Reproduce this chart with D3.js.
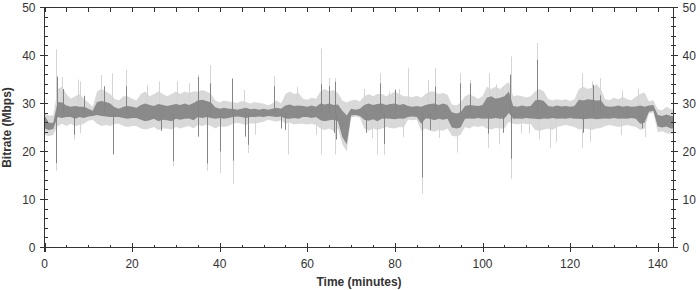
<!DOCTYPE html>
<html>
<head>
<meta charset="utf-8">
<script src="https://cdn.jsdelivr.net/npm/d3@7"></script>
<style>
	body { margin: 0; background: #fff; }
	text { font-family: "Liberation Sans", Arial, sans-serif; fill: #333; }
</style>
</head>
<body>
<svg width="700" height="290"></svg>
<script>
// per-minute envelopes (minute 0..143)
var darkHi = [
	27.5, 26, 26,
	30.3, 30.2, 29.6,
	29.3, 29.5, 29.3, 29.3, 28.9, 28.5,
	30.3, 30.5, 30.3, 30,
	29.2, 28.9, 29.3,
	29.5, 29.3, 29.1,
	29.7, 30, 29.7, 29.5, 29.9, 29.7, 29.5, 29.7,
	29.9, 29.7, 30, 29.7, 30.1,
	30.6, 30.8, 30.5, 30.2,
	29.2, 28.9, 29.1, 28.9,
	28.9, 28.7, 28.9, 29.1, 28.8, 28.9, 28.7, 28.9,
	28.7, 28.9, 29.1, 28.9,
	29.6, 29.8, 29.5, 29.6,
	29.5, 29.3, 29.6, 29.3,
	30, 29.8, 30, 29.7, 29.8,
	28.5, 27.5,
	28.9, 28.7, 28.9,
	29.7, 30, 29.7, 29.9,
	30, 29.7, 29.9, 30, 29.7, 29.9,
	29.5, 29.3, 29.5,
	29.3,
	29.7, 29.9, 30, 29.7, 30, 29.7,
	28.2, 27.9, 28.2,
	29.5, 29.7, 29.6, 29.5, 29.7,
	31.2, 31.5, 31, 31.2, 31.5,
	32.5,
	29.5, 29.3, 29.6, 29.4, 29.5,
	30.6, 30.8, 30.5,
	29.5, 29.3, 29.6, 29.4, 29.5, 29.3, 29.5,
	30.8, 30.6, 30.9, 30.8, 30.6, 30.7,
	29.5, 29.3, 29.4, 29.6, 29.3, 29.5, 29.3, 29.4,
	29.6, 29.3,
	29.6, 29.7,
	27.6, 27.4, 27.7, 27.4
];
var darkLo = [
	24.8, 24.5, 24.7,
	27.2, 27, 27.2,
	27.2, 26.8, 27.2, 27, 27.3, 27.4,
	27.6, 27.4, 27.3, 27.2,
	27.2, 27.2, 27,
	26.8, 27, 27,
	26.6, 26.3, 26.5, 26.8, 26.3, 26.6, 26.5, 26.3,
	26.8, 26.6, 26.8, 26.9, 26.5,
	27.2, 27, 27.2, 27,
	26.8, 27, 26.8, 27,
	27.2, 27.3, 27.2, 27, 27.2, 27.2, 27.3, 27.2,
	27.4, 27.3, 27.2, 27.3,
	26.9, 26.8, 27, 26.8,
	27.2, 27.2, 27, 27.2,
	26.5, 26.3, 26.5, 26.6, 26.3,
	23, 21.5,
	27.5, 27.6, 27.4,
	26.6, 26.4, 26.7, 26.3,
	26.8, 26.9, 26.8, 26.7, 26.9, 26.8,
	27.2, 27.3, 27.2,
	25.8,
	26.9, 26.8, 26.5, 26.8, 26.6, 26.8,
	25, 24.8, 25,
	26.8, 26.9, 26.8, 27, 26.8,
	26.9, 26.8, 27, 26.8, 26.9,
	28,
	26.8, 26.9, 26.8, 27, 26.9,
	26.8, 26.7, 26.9,
	26.8, 27, 26.8, 26.9, 26.8, 27, 26.8,
	26.8, 26.7, 26.8, 26.9, 26.7, 26.8,
	26.9, 26.8, 27, 26.8, 26.9, 26.8, 27, 26.8,
	25.8, 26,
	28.3, 28.5,
	25.2, 25, 25.2, 24.8
];
var lightHi = [
	28, 27.5, 27.5,
	33, 33.5, 32,
	31, 31.5, 32, 31, 30.2, 29.3,
	32.5, 33, 32.5, 32,
	31, 30.6, 31.5,
	31.5, 31, 30.6,
	32, 32.5, 31.5, 32, 32.5, 32, 31.5, 32,
	32.5, 32, 32.5, 32.2, 32.5,
	32.5, 32.8, 32.5, 32,
	30.6, 30.2, 30.6, 30.4,
	30.3, 30.1, 30.5, 30.3, 30, 30.3, 30.1, 30,
	29.6, 30, 30.6, 30,
	32, 32.5, 32, 32.2,
	31, 30.8, 31.2, 31,
	32.5, 33, 32.5, 32.8, 32.2,
	30.6, 30.2,
	30.6, 30.8, 30.4,
	31.5, 32, 31.5, 32,
	32, 31.5, 32, 32.5, 32, 31.5,
	31.5, 31.3, 31.6,
	31.2,
	32, 32.5, 32.5, 32, 32.2, 31.8,
	29.8, 29.6, 30.2,
	31.5, 32, 31.5, 31, 31.5,
	33.5, 33, 33.5, 33, 33.8,
	34.5,
	31.5, 31.7, 31.5, 31.3, 31.5,
	32.5, 33, 32.5,
	30.9, 30.7, 30.9, 30.7, 30.9, 30.5, 30.9,
	33, 33.5, 33, 33.3, 34, 33,
	30.9, 30.7, 31.2, 30.9, 31.4, 30.9, 30.7, 31.4,
	32, 32.3,
	30.4, 30.7,
	28.8, 28.6, 29.3, 28.8
];
var lightLo = [
	23.5, 23.2, 23.5,
	25.3, 25.8, 25.3,
	25.8, 25.3, 25.5, 25.8, 26.4, 26.6,
	25.8, 25.3, 25.5, 25.3,
	25.8, 25.8, 25.3,
	25.1, 25.3, 25.3,
	24.8, 24.6, 24.8, 25.1, 24.5, 24.8, 24.8, 24.6,
	25.1, 24.8, 25.1, 25.3, 24.8,
	25.5, 25.3, 25.6, 25.3,
	24.8, 25.3, 25.1, 25.3,
	25.8, 26, 25.8, 25.5, 25.9, 25.8, 26, 26.2,
	26.6, 26.4, 26.2, 26.5,
	25.8, 26, 25.6, 25.8,
	25.8, 25.6, 25.8, 25.5,
	24.8, 24.5, 24.8, 24.3, 24.8,
	21.5, 20,
	27.1, 27.3, 27.1,
	24.8, 24.3, 24.8, 24.5,
	24.8, 25.1, 24.9, 24.8, 25.1, 25,
	26.6, 26.5, 26.6,
	24.3,
	24.8, 24.3, 24.1, 24.5, 24.3, 24.8,
	23.3, 23.1, 23.5,
	25.1, 24.8, 25.3, 25.1, 25.3,
	24.8, 24.6, 24.9, 24.8, 24.8,
	26.2,
	25.8, 25.6, 25.9, 25.7, 25.8,
	24.5, 24.3, 24.6,
	24.8, 24.5, 25.1, 25.3, 25.5, 25.3, 25.1,
	24.6, 24.8, 24.7, 24.5, 24.8, 24.9,
	25.3, 25.5, 25.3, 25.1, 25.3, 25.5, 25.3, 25.1,
	24.5, 24.8,
	27.9, 28.1,
	24, 24.2, 23.8, 23.7
];

// isolated peaks and dips: [minute, Mbps]
var lightSpikes = [
	[2.7, 41.3], [3.9, 35.5], [7.7, 35], [8.2, 34.6], [12.8, 35.9], [15.5, 36.3],
	[18.5, 37], [23.4, 33.8], [26.1, 34.6], [30.3, 34.6], [33, 34.2], [35, 36],
	[37.7, 38], [45.5, 32.8], [52.5, 35.7], [57.6, 33.5], [63.2, 41.5], [64.9, 35.3],
	[66.4, 35.3], [73, 33], [76.5, 36.3], [78.6, 32.5], [81, 33], [83.1, 37.3],
	[87.5, 34.9], [89.2, 37.4], [94.9, 36.3], [97.1, 34.9], [101.5, 36.3], [103, 34],
	[104.7, 33.5], [106.5, 39.8], [112.5, 42.6], [122.6, 36.3], [125, 34.6],
	[126.8, 35.3], [131.9, 32.7], [135.5, 33.1],
	[2.6, 16], [6.7, 22.5], [8.2, 23.8], [15.6, 22], [29.3, 17], [37.1, 16],
	[40.1, 15.5], [43, 13.2], [46.5, 19.7], [48, 23.5], [55.5, 19.4], [62, 23.5],
	[63.2, 19.4], [66.4, 19.4], [74.8, 22.8], [76, 19.3], [77.6, 19.3], [81.9, 23],
	[86.1, 11.2], [90, 22.8], [94.2, 19.8], [101.3, 20.8], [103.8, 21.5], [106.5, 14.3],
	[108.8, 23.8], [110.5, 23.8], [113, 22.5], [115.3, 20.8], [116.8, 22], [122.6, 20.8],
	[124.5, 22], [131.6, 23.4], [137, 23]
];
var darkSpikes = [
	[2.8, 35.6], [4.2, 33], [9, 31.6], [13.5, 33.6], [18.5, 33.6], [35, 35.5],
	[37.7, 34.2], [42.7, 35.2], [52.5, 33.6], [63.2, 34], [64.9, 33.6], [66.4, 34.5],
	[76.5, 34.2], [80, 32.9], [89.2, 33.5], [94.9, 34.2], [97.1, 34.2], [106.3, 36],
	[112.5, 39.1], [125.3, 33.9], [126.8, 31.7],
	[2.6, 17.6], [6.7, 23.5], [15.6, 19.4], [26.5, 24.3], [29.3, 18], [35, 23.1],
	[37.1, 17.5], [40.1, 20], [43, 18.1], [45.7, 23.1], [46.5, 21.4], [54, 24.8],
	[55, 24.5], [66, 23.9], [66.5, 22.5], [73.3, 23.9], [77.6, 21.6], [86.1, 14.6],
	[88, 24.5], [101.3, 23.7], [104.7, 23.9], [106.5, 18.5], [122.9, 23.9], [136.4, 24.8]
];

var xMajor = [0, 20, 40, 60, 80, 100, 120, 140],
	yMajor = [0, 10, 20, 30, 40, 50];

var svg = d3.select("svg"),
	plotLeft = 44.5,
	plotRight = 673.5,
	plotTop = 7.5,
	plotBottom = 247.5,
	spikeBase = 28;

var x = d3.scaleLinear().domain([0, 143.6]).range([plotLeft, plotRight]);
var y = d3.scaleLinear().domain([0, 50]).range([plotBottom, plotTop]);

svg.append("defs").append("clipPath")
	.attr("id", "plot")
	.append("rect")
	.attr("x", plotLeft).attr("y", plotTop)
	.attr("width", plotRight - plotLeft).attr("height", plotBottom - plotTop);

function band(hi, lo) {
	var pts = hi.map(function (v, i) {
		return { t: i, hi: v, lo: lo[i] };
	});
	pts.push({ t: 143.6, hi: hi[hi.length - 1], lo: lo[lo.length - 1] });
	return pts;
}

var area = d3.area()
	.x(function (d) { return x(d.t); })
	.y0(function (d) { return y(d.lo); })
	.y1(function (d) { return y(d.hi); });

function px(t) { return Math.round(x(t)) + 0.5; }
function py(v) { return Math.round(y(v) - 0.5) + 0.5; }

var g = svg.append("g").attr("clip-path", "url(#plot)");

g.append("path")
	.datum(band(lightHi, lightLo))
	.attr("fill", "#d9d9d9")
	.attr("d", area);

g.append("g")
	.selectAll("line")
	.data(lightSpikes)
	.enter().append("line")
	.attr("x1", function (d) { return px(d[0]); })
	.attr("x2", function (d) { return px(d[0]); })
	.attr("y1", function (d) { return y(d[1]); })
	.attr("y2", y(spikeBase))
	.attr("stroke", "#d4d4d4")
	.attr("stroke-width", 1);

g.append("path")
	.datum(band(darkHi, darkLo))
	.attr("fill", "#8a8a8a")
	.attr("d", area);

g.append("g")
	.selectAll("line")
	.data(darkSpikes)
	.enter().append("line")
	.attr("x1", function (d) { return px(d[0]); })
	.attr("x2", function (d) { return px(d[0]); })
	.attr("y1", function (d) { return y(d[1]); })
	.attr("y2", y(spikeBase))
	.attr("stroke", "#848484")
	.attr("stroke-width", 1);

// frame and ticks
var frame = svg.append("g")
	.attr("stroke", "#333")
	.attr("shape-rendering", "crispEdges");

frame.append("line").attr("x1", plotLeft).attr("x2", plotRight).attr("y1", plotTop).attr("y2", plotTop);
frame.append("line").attr("x1", plotLeft).attr("x2", plotRight).attr("y1", plotBottom).attr("y2", plotBottom);
frame.append("line").attr("x1", plotLeft).attr("x2", plotLeft).attr("y1", plotTop).attr("y2", plotBottom + 4);
frame.append("line").attr("x1", plotRight).attr("x2", plotRight).attr("y1", plotTop).attr("y2", plotBottom);

var xMinor = d3.range(0, 143.6, 5),
	yMinor = d3.range(0, 50.1, 2);

frame.selectAll(".xminor")
	.data(xMinor)
	.enter().append("line")
	.attr("x1", px).attr("x2", px)
	.attr("y1", plotBottom)
	.attr("y2", plotBottom - 3);

frame.selectAll(".xtop")
	.data(xMinor)
	.enter().append("line")
	.attr("x1", px).attr("x2", px)
	.attr("y1", plotTop)
	.attr("y2", plotTop + 4);

frame.selectAll(".xmajor")
	.data(xMajor)
	.enter().append("line")
	.attr("x1", px).attr("x2", px)
	.attr("y1", plotBottom - 5)
	.attr("y2", plotBottom + 4);

frame.selectAll(".yminorL")
	.data(yMinor)
	.enter().append("line")
	.attr("x1", plotLeft - 1)
	.attr("x2", plotLeft + 3)
	.attr("y1", py).attr("y2", py);

frame.selectAll(".yminorR")
	.data(yMinor)
	.enter().append("line")
	.attr("x1", plotRight - 3)
	.attr("x2", plotRight + 2)
	.attr("y1", py).attr("y2", py);

frame.selectAll(".ymajorL")
	.data(yMajor)
	.enter().append("line")
	.attr("x1", plotLeft - 5)
	.attr("x2", plotLeft + 3)
	.attr("y1", py).attr("y2", py);

frame.selectAll(".ymajorR")
	.data(yMajor)
	.enter().append("line")
	.attr("x1", plotRight - 3)
	.attr("x2", plotRight + 4)
	.attr("y1", py).attr("y2", py);

// labels
svg.append("g").selectAll("text")
	.data(xMajor)
	.enter().append("text")
	.attr("x", function (d) { return x(d); })
	.attr("y", 268)
	.attr("text-anchor", "middle")
	.style("font-size", "12px")
	.text(function (d) { return d; });

svg.append("g").selectAll("text")
	.data(yMajor)
	.enter().append("text")
	.attr("x", plotLeft - 9)
	.attr("y", function (d) { return y(d) + 4.5; })
	.attr("text-anchor", "end")
	.style("font-size", "12px")
	.text(function (d) { return d; });

svg.append("g").selectAll("text")
	.data(yMajor)
	.enter().append("text")
	.attr("x", plotRight + 9)
	.attr("y", function (d) { return y(d) + 4.5; })
	.attr("text-anchor", "start")
	.style("font-size", "12px")
	.text(function (d) { return d; });

svg.append("text")
	.attr("x", (plotLeft + plotRight) / 2)
	.attr("y", 286)
	.attr("text-anchor", "middle")
	.style("font-size", "12px")
	.style("font-weight", "bold")
	.text("Time (minutes)");

svg.append("text")
	.attr("transform", "translate(11," + (plotTop + plotBottom) / 2 + ") rotate(-90)")
	.attr("text-anchor", "middle")
	.style("font-size", "12px")
	.style("font-weight", "bold")
	.text("Bitrate (Mbps)");
</script>
</body>
</html>
